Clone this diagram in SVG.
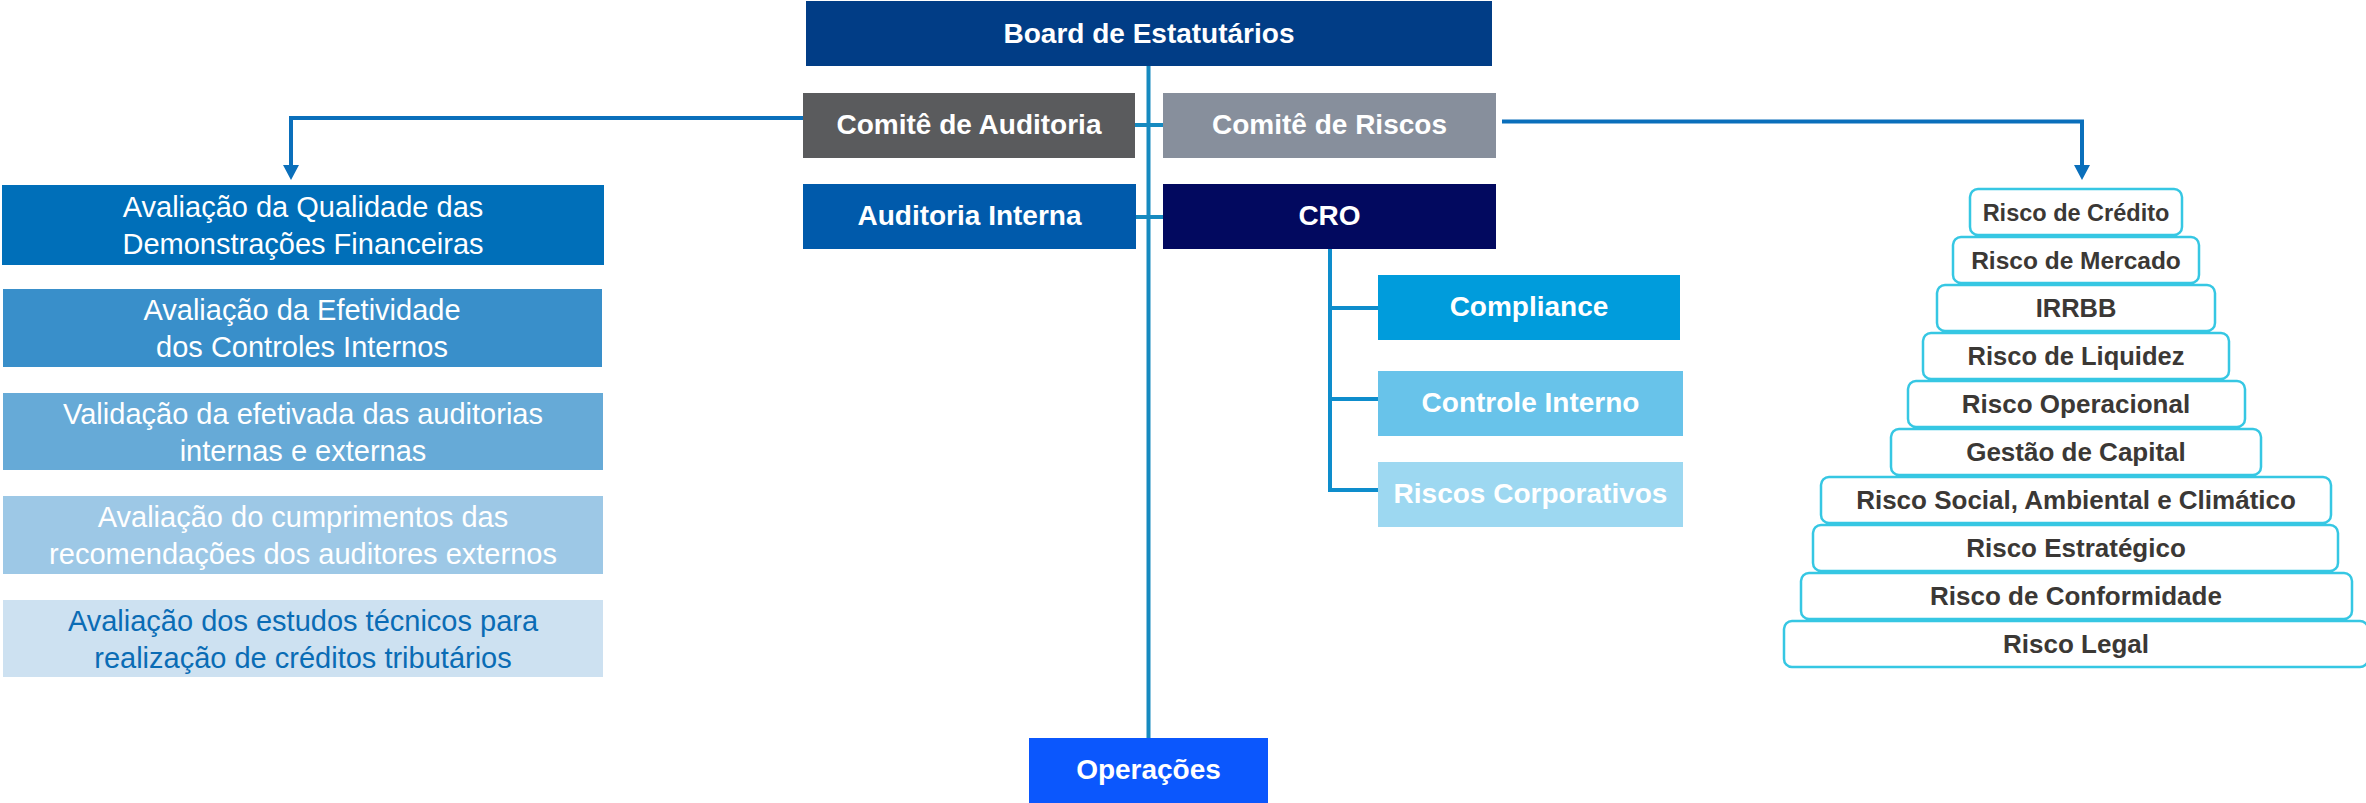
<svg xmlns="http://www.w3.org/2000/svg" width="2366" height="803" viewBox="0 0 2366 803">
<style>
  text { font-family: "Liberation Sans", Arial, sans-serif; text-anchor: middle; }
  .hdr { font-size: 28px; font-weight: bold; fill: #ffffff; }
  .lst { font-size: 29px; fill: #ffffff; }
  .lst5 { font-size: 29px; fill: #0a6cb5; }
  .stk rect { fill: #ffffff; stroke: #36c7e3; stroke-width: 2.5; }
  .stk text { font-weight: bold; fill: #3b3835; font-size: 26px; }
  .trunk { stroke: #168ac0; stroke-width: 4; fill: none; }
  .branch { stroke: #0e8dcc; stroke-width: 4; fill: none; }
  .arr { stroke: #0a6fbb; stroke-width: 4; fill: none; }
</style>

<g id="connectors">
  <line class="trunk" x1="1148.5" y1="66" x2="1148.5" y2="738"/>
  <line class="trunk" x1="1135" y1="125" x2="1163" y2="125"/>
  <line class="trunk" x1="1136" y1="217" x2="1163" y2="217"/>
  <polyline class="arr" points="803,118 291,118 291,166"/>
  <polygon points="283,165 299,165 291,180" fill="#0a6fbb"/>
  <polyline class="arr" points="1502,121.5 2082,121.5 2082,166"/>
  <polygon points="2074,165 2090,165 2082,180" fill="#0a6fbb"/>
  <polyline class="branch" points="1330,249 1330,490 1378,490"/>
  <line class="branch" x1="1330" y1="308" x2="1378" y2="308"/>
  <line class="branch" x1="1330" y1="399" x2="1378" y2="399"/>
</g>

<g id="board"><rect x="806" y="1" width="686" height="65" fill="#013d86"/><text class="hdr" x="1149" y="43">Board de Estatutários</text></g>
<g id="comite-auditoria"><rect x="803" y="93" width="332" height="65" fill="#5a5b5d"/><text class="hdr" x="969" y="134">Comitê de Auditoria</text></g>
<g id="comite-riscos"><rect x="1163" y="93" width="333" height="65" fill="#878f9c"/><text class="hdr" x="1329.5" y="134">Comitê de Riscos</text></g>
<g id="auditoria-interna"><rect x="803" y="184" width="333" height="65" fill="#005aab"/><text class="hdr" x="969.5" y="225">Auditoria Interna</text></g>
<g id="cro"><rect x="1163" y="184" width="333" height="65" fill="#02095f"/><text class="hdr" x="1329.5" y="225">CRO</text></g>
<g id="compliance"><rect x="1378" y="275" width="302" height="65" fill="#009cdc"/><text class="hdr" x="1529" y="316">Compliance</text></g>
<g id="controle-interno"><rect x="1378" y="371" width="305" height="65" fill="#68c3ea"/><text class="hdr" x="1530.5" y="412">Controle Interno</text></g>
<g id="riscos-corporativos"><rect x="1378" y="462" width="305" height="65" fill="#9dd8f1"/><text class="hdr" x="1530.5" y="503">Riscos Corporativos</text></g>
<g id="operacoes"><rect x="1029" y="738" width="239" height="65" fill="#0b57fd"/><text class="hdr" x="1148.5" y="779">Operações</text></g>

<g id="aval-qualidade"><rect x="2" y="185" width="602" height="80" fill="#006fb9"/><text class="lst" x="303" y="217">Avaliação da Qualidade das</text><text class="lst" x="303" y="254">Demonstrações Financeiras</text></g>
<g id="aval-efetividade"><rect x="3" y="289" width="599" height="78" fill="#398fca"/><text class="lst" x="302" y="320">Avaliação da Efetividade</text><text class="lst" x="302" y="357">dos Controles Internos</text></g>
<g id="validacao"><rect x="3" y="393" width="600" height="77" fill="#66aad7"/><text class="lst" x="303" y="424">Validação da efetivada das auditorias</text><text class="lst" x="303" y="461">internas e externas</text></g>
<g id="aval-cumprimentos"><rect x="3" y="496" width="600" height="78" fill="#9dc8e6"/><text class="lst" x="303" y="527">Avaliação do cumprimentos das</text><text class="lst" x="303" y="564">recomendações dos auditores externos</text></g>
<g id="aval-estudos"><rect x="3" y="600" width="600" height="77" fill="#cde1f1"/><text class="lst5" x="303" y="631">Avaliação dos estudos técnicos para</text><text class="lst5" x="303" y="668">realização de créditos tributários</text></g>

<g class="stk">
  <g id="risco-credito"><rect x="1970" y="189" width="212" height="46" rx="8"/><text x="2076" y="221" style="font-size:23.5px">Risco de Crédito</text></g>
  <g id="risco-mercado"><rect x="1953" y="237" width="246" height="46" rx="8"/><text x="2076" y="269" style="font-size:24.5px">Risco de Mercado</text></g>
  <g id="irrbb"><rect x="1937" y="285" width="278" height="46" rx="8"/><text x="2076" y="317" style="font-size:25.5px">IRRBB</text></g>
  <g id="risco-liquidez"><rect x="1923" y="333" width="306" height="46" rx="8"/><text x="2076" y="365" style="font-size:25.5px">Risco de Liquidez</text></g>
  <g id="risco-operacional"><rect x="1908" y="381" width="337" height="46" rx="8"/><text x="2076" y="413">Risco Operacional</text></g>
  <g id="gestao-capital"><rect x="1891" y="429" width="370" height="46" rx="8"/><text x="2076" y="461">Gestão de Capital</text></g>
  <g id="risco-social"><rect x="1821" y="477" width="510" height="46" rx="8"/><text x="2076" y="509">Risco Social, Ambiental e Climático</text></g>
  <g id="risco-estrategico"><rect x="1813" y="525" width="525" height="46" rx="8"/><text x="2076" y="557">Risco Estratégico</text></g>
  <g id="risco-conformidade"><rect x="1801" y="573" width="551" height="46" rx="8"/><text x="2076" y="605">Risco de Conformidade</text></g>
  <g id="risco-legal"><rect x="1784" y="621" width="584" height="46" rx="8"/><text x="2076" y="653">Risco Legal</text></g>
</g>
</svg>
